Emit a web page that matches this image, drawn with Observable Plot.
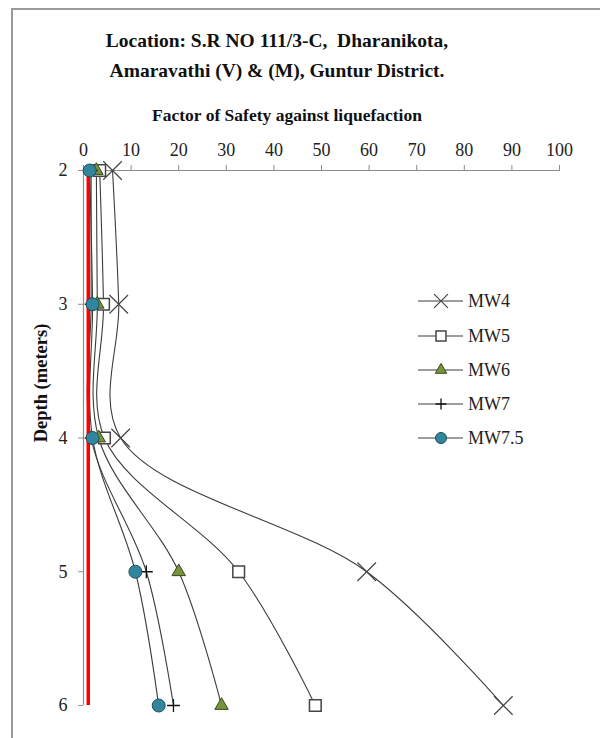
<!DOCTYPE html>
<html>
<head>
<meta charset="utf-8">
<script src="https://cdn.jsdelivr.net/npm/d3@7"></script>
<script src="https://cdn.jsdelivr.net/npm/@observablehq/plot@0.6"></script>
<style>
  html, body { margin: 0; padding: 0; background: #fff; overflow: hidden; width: 600px; height: 738px; }
  #wrap { position: relative; width: 600px; height: 738px; font-family: "Liberation Serif", "Times New Roman", serif; }
  #border { position: absolute; left: 11px; top: 8px; width: 700px; height: 800px; border: 2px solid #9a9a9a; box-sizing: border-box; }
  .title { position: absolute; left: 12px; width: 530px; text-align: center; font-weight: bold; font-size: 19.5px; line-height: 30px; color: #111; }
  #xtitle { position: absolute; left: 12px; width: 550px; text-align: center; font-weight: bold; font-size: 17.5px; line-height: 20px; color: #111; top: 105px; }
  #ytitle { position: absolute; left: 41px; top: 383px; transform: translate(-50%, -50%) rotate(-90deg); white-space: nowrap; font-weight: bold; font-size: 18.5px; color: #111; }
  #chart { position: absolute; left: 0; top: 0; }
  #legend { position: absolute; left: 0; top: 0; }
</style>
</head>
<body>
<div id="wrap">
  <div id="border"></div>
  <div id="chart"></div>
  <div class="title" style="top:26px">Location: S.R NO 111/3-C,&nbsp; Dharanikota,<br>Amaravathi (V) &amp; (M), Guntur District.</div>
  <div id="xtitle">Factor of Safety against liquefaction</div>
  <div id="ytitle">Depth (meters)</div>
  <div id="legend"></div>
</div>
<script>
// ---- data ----
const depths = [2, 3, 4, 5, 6];
const seriesNames = ["MW4", "MW5", "MW6", "MW7", "MW7.5"];
const mw4  = [6.1, 7.4, 7.8, 59.5, 88.2];
const mw5  = [3.4, 4.2, 4.4, 32.6, 48.7];
const mw6  = [2.7, 2.9, 3.2, 20.0, 29.0];
const mw7  = [1.6, 1.6, 1.6, 13.2, 18.9];
const mw75 = [1.3, 1.9, 1.9, 10.9, 15.8];
const fsLimit = [1];               // FS = 1 reference line
const xTicks = [0, 10, 20, 30, 40, 50, 60, 70, 80, 90, 100];
const yTicks = [2, 3, 4, 5, 6];

// ---- styling per series ----
const style = {
  "MW4":   {symbol: "times",    r: 8.5, fill: "none",    stroke: "#444", sw: 1.2},
  "MW5":   {symbol: "square",   r: 6.6, fill: "white",   stroke: "#444", sw: 1.5},
  "MW6":   {symbol: "triangle", r: 5.0, fill: "#77933C", stroke: "#3a4a1c", sw: 1},
  "MW7":   {symbol: "plus",     r: 4.2, fill: "none",    stroke: "#111", sw: 1.3},
  "MW7.5": {symbol: "circle",   r: 6.5, fill: "#31859C", stroke: "#1e4f5c", sw: 1}
};

const valuesBySeries = {"MW4": mw4, "MW5": mw5, "MW6": mw6, "MW7": mw7, "MW7.5": mw75};
const rows = seriesNames.flatMap(s => depths.map((d, i) => ({series: s, depth: d, fs: valuesBySeries[s][i]})));

const axisGray = "#8c8c8c";
const marks = [
  Plot.ruleY([2], {x1: 0, x2: 100, stroke: axisGray, strokeWidth: 1.2}),
  Plot.ruleX([0], {y1: 2, y2: 6, stroke: axisGray, strokeWidth: 1.2}),
  Plot.axisX(xTicks, {anchor: "top", tickSize: 6, tickPadding: 9, stroke: axisGray, fontSize: 18, fill: "#222", label: null}),
  Plot.axisY(yTicks, {anchor: "left", tickSize: 5, tickPadding: 11, stroke: axisGray, fontSize: 18, fill: "#222", label: null, tickFormat: d => String(d)}),
  Plot.line(rows, {x: "fs", y: "depth", z: "series", curve: "catmull-rom", stroke: "#3c3c3c", strokeWidth: 1.1}),
  Plot.ruleX(fsLimit, {y1: 2, y2: 6, stroke: "#ff0000", strokeWidth: 3.5})
];
for (const s of seriesNames) {
  const st = style[s];
  marks.push(Plot.dot(rows.filter(r => r.series === s), {
    x: "fs", y: "depth", symbol: () => st.symbol, r: st.r,
    fill: st.fill, stroke: st.stroke, strokeWidth: st.sw
  }));
}

const chart = Plot.plot({
  width: 600,
  height: 738,
  marginLeft: 83,
  marginRight: 41,
  marginTop: 170,
  marginBottom: 33,
  style: {fontFamily: "'Liberation Serif', 'Times New Roman', serif", background: "transparent"},
  x: {domain: [0, 100]},
  y: {domain: [2, 6], reverse: true},
  symbol: {type: "identity"},
  marks
});
document.getElementById("chart").appendChild(chart);

// ---- legend ----
const legendY = [301, 336, 370, 404, 438];
const lg = d3.select("#legend").append("svg").attr("width", 600).attr("height", 738)
  .style("font-family", "'Liberation Serif', 'Times New Roman', serif");
const symMap = {times: d3.symbolTimes, square: d3.symbolSquare, triangle: d3.symbolTriangle, plus: d3.symbolPlus, circle: d3.symbolCircle};
seriesNames.forEach((s, i) => {
  const st = style[s];
  const g = lg.append("g").attr("transform", `translate(0,${legendY[i]})`);
  g.append("line").attr("x1", 418).attr("x2", 463).attr("y1", 0).attr("y2", 0).attr("stroke", "#3c3c3c").attr("stroke-width", 1.1);
  const scale = s === "MW4" ? 0.75 : 0.85;
  g.append("path")
    .attr("transform", `translate(441,0)`)
    .attr("d", d3.symbol(symMap[st.symbol], Math.PI * (st.r * scale) ** 2)())
    .attr("fill", st.fill).attr("stroke", st.stroke).attr("stroke-width", st.sw);
  g.append("text").attr("x", 468).attr("y", 0).attr("dy", "0.35em").attr("font-size", 18).attr("fill", "#222").text(s);
});
</script>
</body>
</html>
